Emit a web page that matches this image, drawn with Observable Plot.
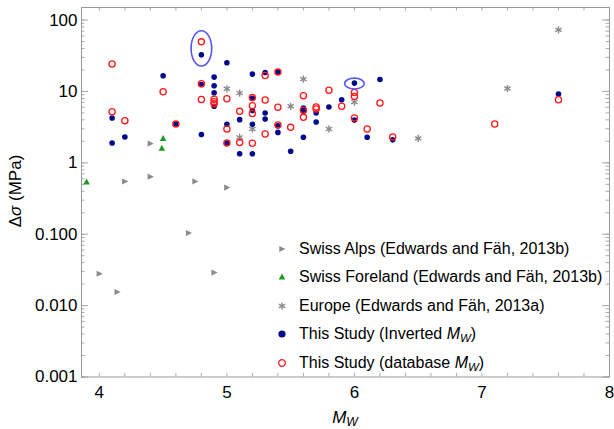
<!DOCTYPE html>
<html><head><meta charset="utf-8">
<script src="https://cdn.jsdelivr.net/npm/d3@7"></script>
<script src="https://cdn.jsdelivr.net/npm/@observablehq/plot@0.6"></script>
<style>
html,body{margin:0;padding:0;background:#fff;}
#wrap{position:relative;width:614px;height:429px;font-family:"Liberation Sans",Arial,Helvetica,sans-serif;color:#000;}
#wrap svg{display:block;}
.ov{position:absolute;white-space:nowrap;}
.leg{position:absolute;left:299px;font-size:16px;line-height:16px;transform:translateY(-50%);white-space:nowrap;}
.legsym{position:absolute;left:275px;transform:translateY(-50%);}
sub{font-size:0.72em;vertical-align:-0.25em;line-height:0;}
</style></head><body><div id="wrap"></div>
<script>
// ---- data ----
const alpsMw = [4.0, 4.14, 4.2, 4.4, 4.4, 4.7, 4.75, 4.9, 5.0];
const alpsStress = [0.028, 0.0155, 0.55, 1.86, 0.64, 0.104, 0.55, 0.029, 0.45];
const forelandMw = [3.9, 4.5, 4.49];
const forelandStress = [0.54, 2.2, 1.6];
const europeMw = [5.0, 5.1, 5.1, 5.2, 5.5, 5.6, 5.8, 6.0, 6.5, 7.2, 7.6];
const europeStress = [10.9, 9.5, 2.28, 2.98, 6.2, 14.9, 2.98, 7.1, 2.2, 11.0, 72.8];
const invertedMw = [4.1,4.1, 4.2, 4.5, 4.6, 4.8,4.8,4.8, 4.9,4.9,4.9,4.9, 5.0,5.0,5.0, 5.1,5.1,
  5.2,5.2,5.2,5.2,5.2, 5.3,5.3,5.3, 5.4,5.4,5.4, 5.5, 5.6,5.6,5.6, 5.7,5.7, 5.8, 5.9, 6.0,6.0, 6.1, 6.2, 6.3, 7.6];
const invertedStress = [4.25,1.9, 2.3, 16.6, 3.5, 32.6,12.5,2.5, 15.9,12,9.6,6.2, 25.2,3.46,1.9, 4.03,1.34,
  17.5,8.0,5.4,3.46,1.34, 18.4,5.0,4.1, 18.7,3.3,2.67, 1.45, 5.86,5.3,2.28, 5.0,3.74, 6.06, 7.65, 13.1,3.98, 2.28, 14.7, 2.1, 9.2];
const databaseMw = [4.1,4.1, 4.2, 4.5, 4.6, 4.8,4.8,4.8, 4.9,4.9,4.9, 5.0,5.0,5.0, 5.1,5.1,
  5.2,5.2,5.2,5.2, 5.3,5.3,5.3, 5.4,5.4,5.4, 5.5, 5.6,5.6,5.6, 5.7,5.7, 5.8, 5.9, 6.0,6.0,6.0, 6.1, 6.2, 6.3, 7.1, 7.6];
const databaseStress = [24.2,5.2, 3.9, 9.9, 3.5, 49.5,12.8,7.7, 7.8,7.2,6.7, 7.9,2.98,1.9, 5.26,1.92,
  8.2,6.3,4.9,1.88, 16.7,7.6,2.54, 18.7,6.0,3.4, 3.14, 8.7,5.46,4.34, 6.06,5.7, 10.4, 6.2, 9.7,8.5,4.25, 2.98, 6.9, 2.3, 3.5, 7.65];
const highlightMw = [4.8, 6.0];
const highlightStress = [40.1, 12.9];
const xTickValues = [4, 5, 6, 7, 8];
const xTickLabels = ["4", "5", "6", "7", "8"];
const yTickValues = [0.001, 0.01, 0.1, 1, 10, 100];
const yTickLabels = ["0.001", "0.010", "0.100", "1", "10", "100"];
const seriesLabels = [
  "Swiss Alps (Edwards and Fäh, 2013b)",
  "Swiss Foreland (Edwards and Fäh, 2013b)",
  "Europe (Edwards and Fäh, 2013a)",
  "This Study (Inverted <i>M</i><sub><i>W</i></sub>)",
  "This Study (database <i>M</i><sub><i>W</i></sub>)"
];

// ---- helpers ----
const zip = (xs, ys) => xs.map((x, i) => ({x, y: ys[i]}));
const triRight = {draw(ctx, size) {
  const r = Math.sqrt(size / Math.PI);
  ctx.moveTo(r, 0); ctx.lineTo(-r * 0.8, -r * 0.9); ctx.lineTo(-r * 0.8, r * 0.9); ctx.closePath();
}};
const triUp = {draw(ctx, size) {
  const r = Math.sqrt(size / Math.PI);
  ctx.moveTo(0, -r); ctx.lineTo(r * 0.95, r * 0.75); ctx.lineTo(-r * 0.95, r * 0.75); ctx.closePath();
}};
function ellipseSym(rx, ry) {
  const k = 0.5522847;
  return {draw(ctx) {
    ctx.moveTo(rx, 0);
    ctx.bezierCurveTo(rx, ry * k, rx * k, ry, 0, ry);
    ctx.bezierCurveTo(-rx * k, ry, -rx, ry * k, -rx, 0);
    ctx.bezierCurveTo(-rx, -ry * k, -rx * k, -ry, 0, -ry);
    ctx.bezierCurveTo(rx * k, -ry, rx, -ry * k, rx, 0);
    ctx.closePath();
  }};
}
const hl = zip(highlightMw, highlightStress);
hl[0].s = ellipseSym(10.3, 17.6);
hl[1].s = ellipseSym(9.8, 5.4);

const W = 614, H = 429, mL = 81, mR = 5, mT = 7, mB = 52.5;
const innerW = W - mL - mR, innerH = H - mT - mB;
const yMinor = d3.scaleLog().domain([0.001, 100]).ticks();
const xMinor = d3.ticks(3.86, 8, 20);
const tickCol = "#aaa";

const chart = Plot.plot({
  width: W, height: H,
  marginLeft: mL, marginRight: mR, marginTop: mT, marginBottom: mB,
  style: {fontFamily: '"Liberation Sans", Arial, sans-serif', fontSize: "17px", color: "#000", background: "transparent"},
  x: {domain: [3.86, 8], ticks: xTickValues, tickFormat: d => xTickLabels[xTickValues.indexOf(d)], tickSize: 0, tickPadding: 9, label: null},
  y: {type: "log", domain: [0.001, 150], ticks: yTickValues, tickFormat: d => yTickLabels[yTickValues.indexOf(d)], tickSize: 0, tickPadding: 4, label: null},
  marks: [
    Plot.tickY(yMinor, {y: d => d, stroke: tickCol, strokeWidth: 1, insetRight: innerW - 3.5}),
    Plot.tickY(yTickValues, {y: d => d, stroke: tickCol, strokeWidth: 1, insetRight: innerW - 7}),
    Plot.tickY(yMinor, {y: d => d, stroke: tickCol, strokeWidth: 1, insetLeft: innerW - 3.5}),
    Plot.tickY(yTickValues, {y: d => d, stroke: tickCol, strokeWidth: 1, insetLeft: innerW - 7}),
    Plot.tickX(xMinor, {x: d => d, stroke: tickCol, strokeWidth: 1, insetTop: innerH - 3.5}),
    Plot.tickX(xMinor, {x: d => d, stroke: tickCol, strokeWidth: 1, insetBottom: innerH - 3.5}),
    Plot.frame({stroke: "#999", strokeWidth: 1}),
    Plot.dot(zip(alpsMw, alpsStress), {x: "x", y: "y", symbol: triRight, r: 3.4, fill: "#8a8a8a", stroke: "none"}),
    Plot.dot(zip(forelandMw, forelandStress), {x: "x", y: "y", symbol: triUp, r: 3.4, fill: "#1c9c1c", stroke: "none"}),
    Plot.dot(zip(europeMw, europeStress), {x: "x", y: "y", symbol: "asterisk", r: 3.4, stroke: "#8a8a8a", strokeWidth: 1.4}),
    Plot.dot(zip(invertedMw, invertedStress), {x: "x", y: "y", r: 2.8, fill: "#000a8c", stroke: "none"}),
    Plot.dot(zip(databaseMw, databaseStress), {x: "x", y: "y", r: 3.1, fill: "none", stroke: "#ff1a1a", strokeWidth: 1.3}),
    Plot.dot(hl, {x: "x", y: "y", symbol: d => d.s, fill: "none", stroke: "#5656f0", strokeWidth: 1.6})
  ]
});
const wrap = document.getElementById("wrap");
wrap.appendChild(chart);

// axis titles
const yl = document.createElement("div");
yl.className = "ov";
yl.style.cssText = "left:16px;top:191px;font-size:17px;transform:translate(-50%,-50%) rotate(-90deg);";
yl.innerHTML = "Δ<i>σ</i> (MPa)";
wrap.appendChild(yl);
const xl = document.createElement("div");
xl.className = "ov";
xl.style.cssText = "left:345px;top:418px;font-size:17px;transform:translate(-50%,-50%);";
xl.innerHTML = "<i>M</i><sub><i>W</i></sub>";
wrap.appendChild(xl);

// legend
const legSyms = [
  {sym: triRight, fill: "#8a8a8a", stroke: "none", r: 3.4, sw: 0},
  {sym: triUp, fill: "#1c9c1c", stroke: "none", r: 3.4, sw: 0},
  {sym: d3.symbolAsterisk, fill: "none", stroke: "#8a8a8a", r: 3.4, sw: 1.4},
  {sym: d3.symbolCircle, fill: "#000a8c", stroke: "none", r: 3.6, sw: 0},
  {sym: d3.symbolCircle, fill: "none", stroke: "#ff1a1a", r: 3.4, sw: 1.3}
];
seriesLabels.forEach((lab, i) => {
  const cy = 249 + i * 28.4;
  const t = document.createElement("div");
  t.className = "leg"; t.style.top = cy + "px"; t.innerHTML = lab;
  wrap.appendChild(t);
  const s = legSyms[i];
  const svg = d3.create("svg").attr("width", 14).attr("height", 14)
    .attr("class", "legsym").style("top", cy + "px");
  svg.append("path").attr("transform", "translate(7,7)")
    .attr("d", d3.symbol(s.sym, Math.PI * s.r * s.r)())
    .attr("fill", s.fill).attr("stroke", s.stroke).attr("stroke-width", s.sw);
  wrap.appendChild(svg.node());
});
</script></body></html>
